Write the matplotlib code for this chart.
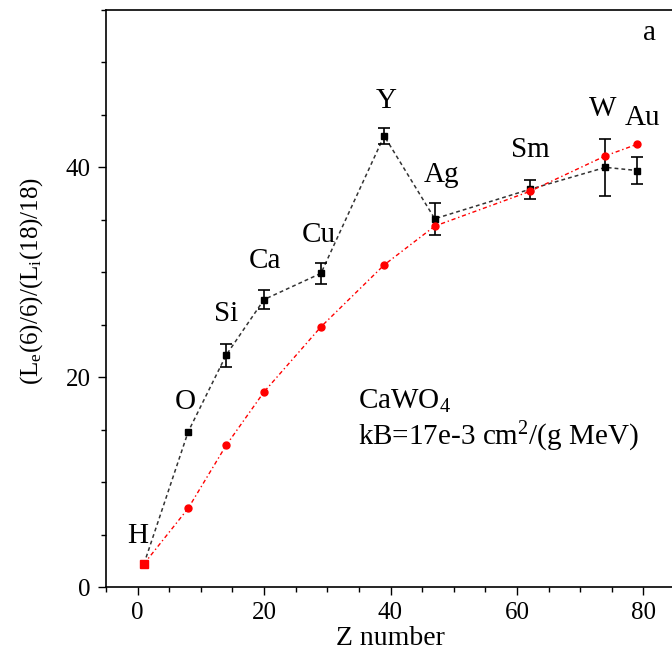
import matplotlib.pyplot as plt
from matplotlib.ticker import MultipleLocator

plt.rcParams['font.family'] = ['Liberation Serif', 'DejaVu Serif']
plt.rcParams['mathtext.fontset'] = 'custom'
plt.rcParams['mathtext.rm'] = 'Liberation Serif'
plt.rcParams['mathtext.it'] = 'Liberation Serif'

# measured light yield ratio per element (black squares)
elements = ["H", "O", "Si", "Ca", "Cu", "Y", "Ag", "Sm", "W", "Au"]
z_meas = [1, 8, 14, 20, 29, 39, 47, 62, 74, 79]
ratio_meas = [2.2, 14.8, 22.1, 27.4, 29.9, 43.0, 35.1, 37.9, 40.0, 39.7]
ratio_err = [0, 0, 1.1, 0.9, 1.0, 0.75, 1.5, 0.9, 2.7, 1.3]

# Birks model calculation (red)
z_calc = [1, 8, 14, 20, 29, 39, 47, 62, 74, 79]
ratio_calc = [2.2, 7.5, 13.5, 18.6, 24.8, 30.7, 34.4, 37.7, 41.1, 42.2]

# where the element names sit
label_x = [0.0, 7.6, 14.0, 20.1, 28.7, 39.3, 48.1, 62.1, 73.6, 79.8]
label_y = [4.2, 17.0, 25.4, 30.4, 32.9, 45.7, 38.6, 41.0, 44.9, 44.0]

fig = plt.figure(figsize=(6.72, 6.57), dpi=100)
ax = fig.add_axes([106 / 672, 70 / 657, 569 / 672, 577 / 657])

ax.plot(z_meas, ratio_meas, color='0.2', lw=1.1, ls=(0, (2.5, 2)), zorder=2)
ax.plot(z_meas, ratio_meas, 's', color='black', ms=5, zorder=3)
has_err = [i for i, e in enumerate(ratio_err) if e > 0]
ax.errorbar([z_meas[i] for i in has_err], [ratio_meas[i] for i in has_err],
            yerr=[ratio_err[i] for i in has_err], fmt='none', ecolor='black',
            capsize=4.5, elinewidth=1.2, capthick=1.2, zorder=3)

ax.plot(z_calc, ratio_calc, color='red', lw=1.0, ls=(0, (3, 2, 1, 2)), zorder=4)
ax.plot(z_calc[1:], ratio_calc[1:], 'o', color='red', ms=5, zorder=5)
ax.plot(z_calc[:1], ratio_calc[:1], 's', color='red', ms=6, zorder=5)

for name, lx, ly in zip(elements, label_x, label_y):
    ax.text(lx, ly, name, ha='center', va='baseline', fontsize=21)

ax.text(81.0, 52.1, "a", ha='center', va='baseline', fontsize=21)
ax.text(34.8, 17.0, "CaWO$_4$", fontsize=21, va='baseline')
ax.text(34.8, 13.5, "kB=17e-3 cm$^2$/(g MeV)", fontsize=21, va='baseline')

ax.set_xlim(-5, 85)
ax.set_ylim(0, 55)
ax.xaxis.set_major_locator(MultipleLocator(20))
ax.xaxis.set_minor_locator(MultipleLocator(5))
ax.yaxis.set_major_locator(MultipleLocator(20))
ax.yaxis.set_minor_locator(MultipleLocator(5))
ax.tick_params(which='major', length=6, width=1.0, labelsize=18, pad=5)
ax.tick_params(which='minor', length=3.5, width=1.0)
for s in ax.spines.values():
    s.set_linewidth(1.2)

ax.set_xlabel("Z number", fontsize=20, labelpad=1)
ax.set_ylabel("(L$_\\mathrm{e}$(6)/6)/(L$_\\mathrm{i}$(18)/18)", fontsize=18)
ax.yaxis.set_label_coords(-0.107, 0.53)

fig.savefig("out.png", dpi=100)
